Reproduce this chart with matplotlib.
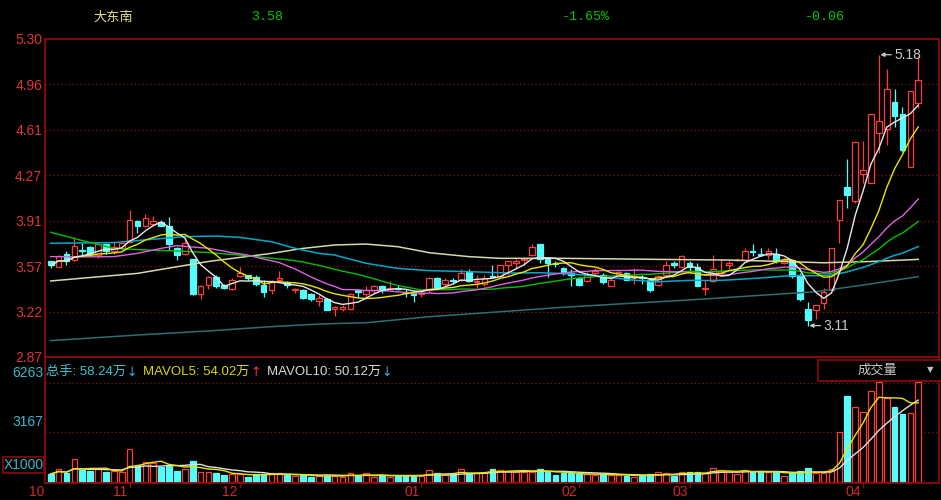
import numpy as np
import pandas as pd
import matplotlib
matplotlib.use("Agg")
import matplotlib.pyplot as plt
from matplotlib.patches import Rectangle

W, H = 941, 500

stock_name = "大东南"
header_values = ["3.58", "-1.65%", "-0.06"]

opens = [3.60, 3.56, 3.66, 3.61, 3.69, 3.71, 3.65, 3.73, 3.68, 3.70,
         3.75, 3.91, 3.87, 3.89, 3.90, 3.87, 3.70, 3.66, 3.62, 3.35,
         3.42, 3.48, 3.42, 3.39, 3.49, 3.50, 3.48, 3.42, 3.38, 3.46,
         3.44, 3.38, 3.38, 3.35, 3.30, 3.31, 3.24, 3.24, 3.24, 3.38,
         3.35, 3.38, 3.41, 3.39, 3.40, 3.37, 3.35, 3.35, 3.38, 3.47,
         3.43, 3.46, 3.46, 3.52, 3.44, 3.43, 3.49, 3.49, 3.57, 3.59,
         3.61, 3.65, 3.73, 3.62, 3.59, 3.55, 3.51, 3.47, 3.45, 3.51,
         3.50, 3.41, 3.50, 3.51, 3.48, 3.48, 3.46, 3.42, 3.50, 3.59,
         3.56, 3.59, 3.56, 3.39, 3.45, 3.51, 3.57, 3.61, 3.61, 3.68,
         3.66, 3.65, 3.66, 3.59, 3.61, 3.50, 3.24, 3.23, 3.28, 3.38,
         3.92, 4.17, 4.06, 4.27, 4.20, 4.58, 4.61, 4.82, 4.73, 4.32,
         4.81]
highs = [3.60, 3.65, 3.68, 3.79, 3.74, 3.72, 3.74, 3.73, 3.75, 3.75,
         3.99, 3.92, 3.96, 3.95, 3.92, 3.94, 3.71, 3.78, 3.62, 3.42,
         3.49, 3.50, 3.43, 3.47, 3.56, 3.50, 3.50, 3.46, 3.46, 3.53,
         3.45, 3.40, 3.39, 3.36, 3.34, 3.32, 3.26, 3.27, 3.36, 3.39,
         3.41, 3.42, 3.42, 3.45, 3.42, 3.39, 3.36, 3.37, 3.48, 3.48,
         3.47, 3.47, 3.54, 3.54, 3.50, 3.50, 3.57, 3.57, 3.60, 3.62,
         3.63, 3.73, 3.73, 3.62, 3.60, 3.56, 3.54, 3.48, 3.52, 3.55,
         3.51, 3.47, 3.53, 3.52, 3.55, 3.50, 3.47, 3.50, 3.60, 3.60,
         3.65, 3.60, 3.59, 3.46, 3.65, 3.62, 3.60, 3.63, 3.70, 3.73,
         3.70, 3.70, 3.70, 3.63, 3.61, 3.51, 3.29, 3.27, 3.40, 3.70,
         4.07, 4.38, 4.51, 4.52, 4.73, 5.18, 5.07, 4.92, 4.78, 4.90,
         5.17]
lows = [3.55, 3.56, 3.57, 3.60, 3.64, 3.64, 3.63, 3.66, 3.66, 3.69,
        3.74, 3.82, 3.86, 3.87, 3.87, 3.69, 3.61, 3.65, 3.34, 3.31,
        3.39, 3.40, 3.39, 3.38, 3.48, 3.46, 3.41, 3.33, 3.35, 3.45,
        3.40, 3.36, 3.31, 3.30, 3.26, 3.23, 3.18, 3.22, 3.23, 3.33,
        3.33, 3.36, 3.36, 3.38, 3.38, 3.33, 3.29, 3.33, 3.37, 3.39,
        3.41, 3.43, 3.45, 3.44, 3.40, 3.41, 3.47, 3.48, 3.50, 3.54,
        3.57, 3.64, 3.59, 3.48, 3.56, 3.50, 3.41, 3.41, 3.44, 3.50,
        3.43, 3.41, 3.48, 3.46, 3.43, 3.43, 3.37, 3.41, 3.49, 3.55,
        3.55, 3.52, 3.41, 3.34, 3.44, 3.50, 3.54, 3.60, 3.61, 3.64,
        3.64, 3.62, 3.59, 3.58, 3.47, 3.30, 3.11, 3.16, 3.24, 3.38,
        3.74, 4.01, 4.05, 4.20, 4.20, 4.43, 4.49, 4.63, 4.44, 4.32,
        4.77]
closes = [3.57, 3.64, 3.60, 3.72, 3.68, 3.66, 3.73, 3.68, 3.71, 3.74,
          3.92, 3.87, 3.93, 3.91, 3.87, 3.73, 3.65, 3.74, 3.35, 3.41,
          3.48, 3.41, 3.40, 3.46, 3.51, 3.47, 3.43, 3.37, 3.45, 3.47,
          3.42, 3.39, 3.32, 3.31, 3.32, 3.23, 3.25, 3.25, 3.35, 3.37,
          3.38, 3.41, 3.38, 3.40, 3.39, 3.36, 3.34, 3.36, 3.47, 3.40,
          3.46, 3.45, 3.51, 3.45, 3.45, 3.47, 3.48, 3.57, 3.60, 3.60,
          3.62, 3.71, 3.62, 3.59, 3.58, 3.51, 3.50, 3.42, 3.50, 3.53,
          3.44, 3.46, 3.52, 3.46, 3.49, 3.47, 3.38, 3.49, 3.57, 3.57,
          3.64, 3.56, 3.41, 3.40, 3.54, 3.53, 3.59, 3.61, 3.68, 3.67,
          3.65, 3.68, 3.60, 3.61, 3.49, 3.31, 3.15, 3.27, 3.37, 3.70,
          4.07, 4.11, 4.51, 4.30, 4.73, 4.67, 4.92, 4.71, 4.45, 4.90,
          4.99]
volumes = [506, 823, 550, 1477, 760, 696, 823, 633, 717, 633,
           2110, 1055, 1266, 1200, 950, 1097, 696, 802, 1330, 633,
           633, 570, 422, 506, 506, 338, 485, 506, 550, 550,
           422, 380, 422, 338, 401, 401, 401, 338, 549, 401,
           549, 338, 401, 338, 401, 401, 401, 401, 760, 549,
           443, 485, 823, 549, 549, 549, 823, 780, 720, 654,
           654, 654, 823, 654, 443, 549, 549, 485, 485, 443,
           485, 443, 443, 401, 338, 401, 485, 612, 549, 401,
           612, 654, 612, 549, 907, 760, 654, 485, 760, 612,
           696, 612, 612, 401, 549, 696, 865, 549, 549, 823,
           3144, 5465, 4769, 4452, 5760, 6351, 5296, 4769, 4283, 4347,
           6351]

ma20_head_idx = [0, 4, 8, 11, 14, 16]
ma20_head_val = [3.637, 3.635, 3.637, 3.662, 3.700, 3.721]
ma30_head_idx = [0, 4, 8, 12, 16, 20, 24]
ma30_head_val = [3.823, 3.760, 3.700, 3.688, 3.680, 3.668, 3.649]
ma60_head_idx = [0, 8, 13, 17, 21, 24, 28, 31, 34, 36, 40, 44, 48, 53, 57]
ma60_head_val = [3.739, 3.744, 3.770, 3.790, 3.794, 3.784, 3.751, 3.700,
                 3.662, 3.649, 3.586, 3.547, 3.530, 3.522, 3.514]
ma120_idx = [0, 11, 20, 28, 32, 36, 40, 44, 48, 53, 57, 65, 77, 86, 94, 98, 104, 110]
ma120_val = [3.451, 3.509, 3.600, 3.662, 3.700, 3.726, 3.733, 3.713, 3.667,
             3.637, 3.624, 3.624, 3.616, 3.611, 3.598, 3.590, 3.600, 3.616]
ma250_idx = [0, 11, 20, 28, 34, 40, 48, 57, 65, 72, 81, 97, 103, 110]
ma250_val = [2.995, 3.038, 3.069, 3.102, 3.122, 3.132, 3.178, 3.216, 3.250,
             3.275, 3.306, 3.369, 3.420, 3.484]

price_tick_labels = ["2.87", "3.22", "3.57", "3.91", "4.27", "4.61", "4.96", "5.30"]
price_min, price_max = 2.87, 5.30
vol_tick_values = [3167, 6263]
vol_tick_labels = ["3167", "6263"]
month_labels = ["10", "11", "12", "01", "02", "03", "04"]
month_index = [0, 10, 24, 47, 67, 81, 103]
low_label = "3.11"
high_label = "5.18"
legend_items = [("总手: 58.24万", "↓"), ("MAVOL5: 54.02万", "↑"), ("MAVOL10: 50.12万", "↓")]

# ---------------------------------------------------------------- styles
RED = "#ff3c3c"
CYAN = "#54fcfc"
FRAME = "#8c0a0a"
GRID = "#a01010"
LABEL_RED = "#e03434"
VOL_LABEL = "#38b8cc"
MA_COLORS = {"ma5": "#e8e8e8", "ma10": "#e6e600", "ma20": "#e060e0",
             "ma30": "#00c000", "ma60": "#00a8c8", "ma120": "#d8d8a8",
             "ma250": "#2e6c74"}
LATIN = ["Liberation Sans", "Noto Sans CJK SC", "DejaVu Sans"]
CJK = ["Noto Sans CJK SC", "DejaVu Sans"]

n = len(closes)
idx = np.arange(n)
o = np.array(opens); c = np.array(closes)
hi = np.array(highs); lo = np.array(lows)
vol = np.array(volumes, dtype=float)
up = c >= o

px = 7.887  # pixel pitch per bar
x0 = 50.7
xlim = ((45 - x0) / px, (939 - x0) / px)

fig = plt.figure(figsize=(W / 100, H / 100), dpi=100, facecolor="black")


def fx(x):
    return x / W


def fy(y):
    return 1 - y / H


ax = fig.add_axes([fx(45), fy(357), (939 - 45) / W, (357 - 39) / H], facecolor="black")
axv = fig.add_axes([fx(45), fy(483), (939 - 45) / W, (483 - 357) / H], facecolor="black")

for a in (ax, axv):
    a.set_xlim(*xlim)
    for s in a.spines.values():
        s.set_color(FRAME)
        s.set_linewidth(1.3)
    a.set_xticks([])

ax.set_ylim(price_min, price_max)
ticks = np.linspace(price_min, price_max, len(price_tick_labels))
ax.set_yticks(ticks)
ax.set_yticklabels(price_tick_labels, family=LATIN, fontsize=10, color=LABEL_RED)
ax.tick_params(axis="y", length=0, pad=2)
for t in ticks[1:-1]:
    ax.axhline(t, color=GRID, lw=0.8, ls=(0, (1, 2.5)), zorder=0.5)

# candles
bw = 0.72
for i in range(n):
    col = RED if up[i] else CYAN
    ax.vlines(i, lo[i], hi[i], color=col, lw=0.9, zorder=2)
    bot = min(o[i], c[i])
    h = abs(c[i] - o[i])
    if h < 0.006:
        ax.hlines(o[i], i - bw / 2, i + bw / 2, color=col, lw=1.0, zorder=3)
    else:
        ax.add_patch(Rectangle((i - bw / 2, bot), bw, h,
                               facecolor="black" if up[i] else CYAN,
                               edgecolor=col, lw=0.9, zorder=3))

cs = pd.Series(c)
ma5 = cs.rolling(5, min_periods=1).mean()
ma10 = cs.rolling(10, min_periods=1).mean()
ma20 = cs.rolling(20).mean()
ma30 = cs.rolling(30).mean()
ma60 = cs.rolling(60).mean()


def joined(head_idx, head_val, full, win):
    xs = list(head_idx) + list(range(win - 1, n))
    ys = list(head_val) + list(full.values[win - 1:])
    return xs, ys


ax.plot(ma250_idx, ma250_val, color=MA_COLORS["ma250"], lw=1.1, zorder=4)
ax.plot(ma120_idx, ma120_val, color=MA_COLORS["ma120"], lw=1.1, zorder=4)
ax.plot(*joined(ma60_head_idx, ma60_head_val, ma60, 60), color=MA_COLORS["ma60"], lw=1.1, zorder=4)
ax.plot(*joined(ma30_head_idx, ma30_head_val, ma30, 30), color=MA_COLORS["ma30"], lw=1.0, zorder=4)
ax.plot(*joined(ma20_head_idx, ma20_head_val, ma20, 20), color=MA_COLORS["ma20"], lw=1.0, zorder=4)
ax.plot(idx, ma10, color=MA_COLORS["ma10"], lw=1.0, zorder=5)
ax.plot(idx, ma5, color=MA_COLORS["ma5"], lw=1.0, zorder=5)

# high / low markers
ih = int(np.argmax(hi))
il = int(np.argmin(lo))
for j, val, lab in ((ih, hi[ih], high_label), (il, lo[il], low_label)):
    ax.annotate(lab, xy=(j, val), xytext=(11, 0), textcoords="offset points",
                va="center", ha="left", color="#c8c8c8", fontsize=10, family=LATIN,
                arrowprops=dict(arrowstyle="-|>", color="#c8c8c8", lw=0.9,
                                mutation_scale=6, shrinkA=0, shrinkB=1), zorder=6)

# volume
axv.set_ylim(-63.3, 7912.5)
axv.set_yticks([])
for v in vol_tick_values:
    axv.axhline(v, color=GRID, lw=0.8, ls=(0, (1, 2.5)), zorder=0.5)
for i in range(n):
    col = RED if up[i] else CYAN
    axv.add_patch(Rectangle((i - bw / 2, 0), bw, vol[i],
                            facecolor="black" if up[i] else CYAN,
                            edgecolor=col, lw=0.9, zorder=2))
vs = pd.Series(vol)
axv.plot(idx, vs.rolling(10, min_periods=1).mean(), color="#e0e0e0", lw=1.0, zorder=4)
axv.plot(idx, vs.rolling(5, min_periods=1).mean(), color="#e6e600", lw=1.0, zorder=4)

# volume axis labels
for v, lab in zip(vol_tick_values, vol_tick_labels):
    yv = 482 - v / 63.3
    fig.text(fx(43), fy(yv - 10), lab, ha="right", va="center", color=VOL_LABEL,
             fontsize=10, family=LATIN)
fig.patches.append(Rectangle((fx(3), fy(473)), (44 - 3) / W, (473 - 457) / H,
                             transform=fig.transFigure, facecolor="black",
                             edgecolor=FRAME, lw=1.2))
fig.text(fx(23.5), fy(465), "X1000", ha="center", va="center", color=VOL_LABEL,
         fontsize=10, family=LATIN)

# volume legend, laid out left to right
fig.canvas.draw()
renderer = fig.canvas.get_renderer()
text_cols = ["#40c0d0", "#d8d800", "#d8d8d8"]
arrow_cols = ["#40a8e0", "#ff3030", "#40a8e0"]
xcur = 46
for (txt, arr), tc, ac in zip(legend_items, text_cols, arrow_cols):
    t = fig.text(fx(xcur), fy(372), txt, ha="left", va="center", color=tc,
                 fontsize=9.5, family=LATIN)
    xcur = t.get_window_extent(renderer=renderer).x1 + 0.5
    t2 = fig.text(fx(xcur), fy(372), arr, ha="left", va="center", color=ac,
                  fontsize=9, family=["DejaVu Sans"])
    xcur = t2.get_window_extent(renderer=renderer).x1 + 6

# 成交量 box
fig.patches.append(Rectangle((fx(818), fy(381)), (945 - 818) / W, (381 - 360) / H,
                             transform=fig.transFigure, facecolor="black",
                             edgecolor=FRAME, lw=1.2))
fig.text(fx(877), fy(370), "成交量", ha="center", va="center", color="#c8c8c8",
         fontsize=9.5, family=CJK)
fig.text(fx(930), fy(370), "▼", ha="center", va="center", color="#c0c0c0",
         fontsize=6, family=["DejaVu Sans"])

# month labels and ticks
for lab, mi in zip(month_labels, month_index):
    xm = x0 + px * mi
    if mi == 0:
        xm = 46
    else:
        fig.lines.append(plt.Line2D([fx(xm), fx(xm)], [fy(483), fy(487)],
                                    transform=fig.transFigure, color=FRAME, lw=1))
    fig.text(fx(xm - 2), fy(492), lab, ha="right", va="center", color="#d02828",
             fontsize=10, family=LATIN)

# header
fig.text(fx(113), fy(17), stock_name, ha="center", va="center", color="#dcdc90",
         fontsize=9.5, family=CJK)
for xx, txt in zip([267, 586, 825], header_values):
    fig.text(fx(xx), fy(17), txt, ha="center", va="center", color="#00c800",
             fontsize=9.5, family=["Liberation Mono", "DejaVu Sans Mono"])

fig.savefig("out.png", dpi=100, facecolor="black")
